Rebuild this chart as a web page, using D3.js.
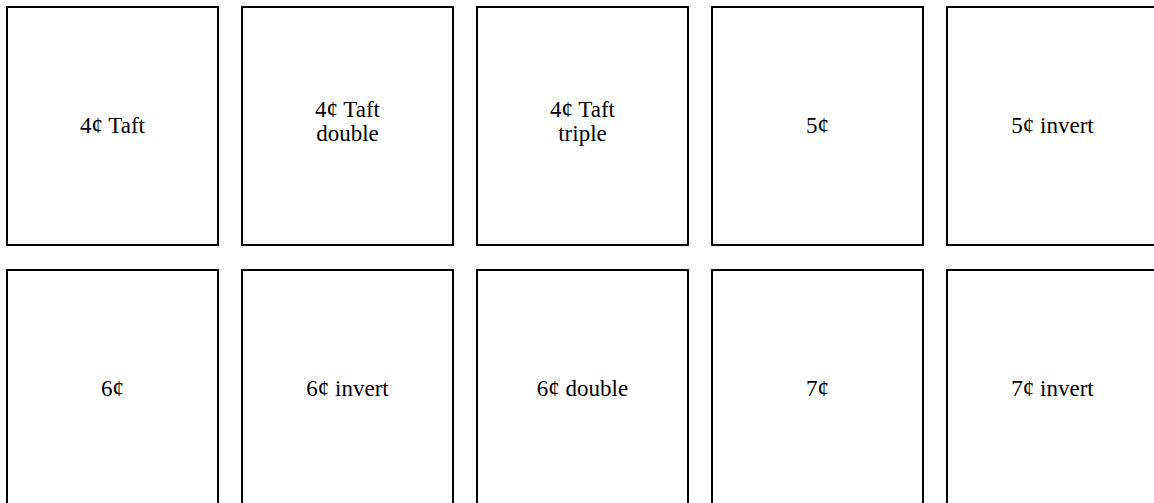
<!DOCTYPE html>
<html>
<head>
<meta charset="utf-8">
<script src="https://cdn.jsdelivr.net/npm/d3@7/dist/d3.min.js"></script>
<style>
  html, body { margin: 0; padding: 0; background: #fff; overflow: hidden; }
  svg { display: block; }
</style>
</head>
<body>
<svg id="chart" width="1154" height="503"></svg>
<script>
const labels = [
  ["4¢ Taft"], ["4¢ Taft", "double"], ["4¢ Taft", "triple"], ["5¢"], ["5¢ invert"],
  ["6¢"], ["6¢ invert"], ["6¢ double"], ["7¢"], ["7¢ invert"]
];
const columns = [0, 1, 2, 3, 4];
const rows = [0, 1];

const svg = d3.select("#chart");
const x = d3.scaleBand().domain(columns).range([7, 1158]).paddingInner(24 / 235).paddingOuter(0);
const y = d3.scaleBand().domain(rows).range([7, 508]).paddingInner(25 / 263).paddingOuter(0);

const cells = svg.selectAll("g.cell")
  .data(labels.map((l, i) => ({ lines: l, col: i % 5, row: Math.floor(i / 5) })))
  .join("g")
  .attr("class", "cell")
  .attr("transform", d => `translate(${x(d.col)},${y(d.row)})`);

cells.append("rect")
  .attr("width", x.bandwidth())
  .attr("height", y.bandwidth())
  .attr("fill", "#fff")
  .attr("stroke", "#000")
  .attr("stroke-width", 2);

const fs = 23;
const lh = 23.4;
cells.append("text")
  .attr("x", x.bandwidth() / 2)
  .attr("y", y.bandwidth() / 2)
  .attr("text-anchor", "middle")
  .attr("font-family", "'Liberation Serif', 'Times New Roman', serif")
  .attr("font-size", fs)
  .attr("fill", "#000")
  .each(function(d) {
    const t = d3.select(this);
    const n = d.lines.length;
    const shift = 6.7 - (n - 1) * 3.7;
    d.lines.forEach((line, i) => {
      t.append("tspan")
        .attr("x", x.bandwidth() / 2)
        .attr("y", y.bandwidth() / 2 + shift + (i - (n - 1) / 2) * lh)
        .text(line);
    });
  });
</script>
</body>
</html>
